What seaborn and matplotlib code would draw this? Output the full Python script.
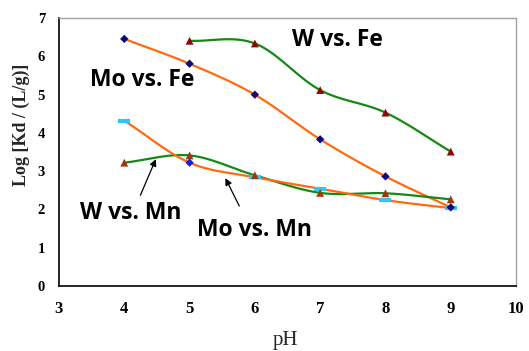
import numpy as np
import pandas as pd
import matplotlib
matplotlib.use("Agg")
import matplotlib.pyplot as plt
import seaborn as sns

ph = [4, 5, 6, 7, 8, 9]
ph_wfe = [5, 6, 7, 8, 9]
mo_fe = [6.46, 5.81, 5.00, 3.83, 2.86, 2.05]
w_fe = [6.41, 6.34, 5.12, 4.53, 3.51]
w_mn = [3.22, 3.41, 2.89, 2.43, 2.42, 2.26]
mo_mn = [4.32, 3.22, 2.84, 2.54, 2.24, 2.03]
xticks = [3, 4, 5, 6, 7, 8, 9, 10]
yticks = [0, 1, 2, 3, 4, 5, 6, 7]

sns.set_style("white")

def smooth(x, y, n=30):
    x = np.asarray(x, float); y = np.asarray(y, float)
    px = np.concatenate([[2 * x[0] - x[1]], x, [2 * x[-1] - x[-2]]])
    py = np.concatenate([[2 * y[0] - y[1]], y, [2 * y[-1] - y[-2]]])
    xs, ys = [], []
    for i in range(1, len(px) - 2):
        t = np.linspace(0, 1, n, endpoint=False)
        p0, p1, p2, p3 = (np.array([px[j], py[j]]) for j in range(i - 1, i + 3))
        c1 = p1 + (p2 - p0) / 6
        c2 = p2 - (p3 - p1) / 6
        pts = ((1 - t) ** 3)[:, None] * p1 + (3 * (1 - t) ** 2 * t)[:, None] * c1 \
            + (3 * (1 - t) * t ** 2)[:, None] * c2 + (t ** 3)[:, None] * p2
        xs.extend(pts[:, 0]); ys.extend(pts[:, 1])
    xs.append(x[-1]); ys.append(y[-1])
    return np.array(xs), np.array(ys)

fig = plt.figure(figsize=(5.29, 3.51), dpi=100)
ax = fig.add_axes([0.1115, 0.186, 0.864, 0.762])

orange = "#FF6A10"
green = "#138A13"

for xv, yv, c in [(ph, mo_fe, orange), (ph_wfe, w_fe, green), (ph, w_mn, green), (ph, mo_mn, orange)]:
    sx, sy = smooth(xv, yv)
    ax.plot(sx, sy, color=c, lw=1.6, zorder=2)

sns.scatterplot(x=ph, y=mo_fe, marker="D", color="#0A0A80", s=18, edgecolor="none", ax=ax, zorder=4)
sns.scatterplot(x=ph_wfe, y=w_fe, marker="^", color="#8B0A0A", s=32, edgecolor="none", ax=ax, zorder=4)
sns.scatterplot(x=ph, y=w_mn, marker="^", color="#A0380F", s=32, edgecolor="none", ax=ax, zorder=4)
mm = pd.DataFrame({"ph": ph, "v": mo_mn})
sub = mm[mm.ph != 5]
ax.plot(sub.ph, sub.v, linestyle="none", marker="_", color="#30C8F0", markersize=8, markeredgewidth=3, zorder=3)
sns.scatterplot(data=mm[mm.ph == 5], x="ph", y="v", marker="D", color="#1020F0", s=18, edgecolor="none", ax=ax, zorder=4)

ax.set_xlim(3, 10)
ax.set_ylim(0, 7)
ax.set_xticks(xticks)
ax.set_yticks(yticks)
ax.set_xticklabels([str(v) for v in xticks], fontfamily="Liberation Serif", fontweight="bold", fontsize=12)
ax.set_yticklabels([str(v) for v in yticks], fontfamily="Liberation Serif", fontweight="bold", fontsize=10.5)
ax.tick_params(direction="in", length=4, width=1, colors="black")
ax.tick_params(axis="x", pad=11)
ax.tick_params(axis="y", pad=10)
for s in ["left", "bottom"]:
    ax.spines[s].set_color("black"); ax.spines[s].set_linewidth(1.2)
for s in ["top", "right"]:
    ax.spines[s].set_color("#A0A0A0"); ax.spines[s].set_linewidth(1.0)

ax.set_xlabel("")
ax.set_ylabel("")
fig.text(285 / 529, 1 - 340 / 351, "pH", fontfamily="Liberation Serif", fontsize=15, ha="center", va="center")
fig.text(21 / 529, 1 - 125 / 351, "Log [Kd / (L/g)]", fontfamily="Liberation Serif", fontweight="bold",
         fontsize=13, rotation=90, ha="center", va="center")

lab = dict(fontfamily="Open Sans", fontweight="bold", fontsize=16.5, color="black")
ax.text(6.57, 6.43, "W vs. Fe", ha="left", va="center", **lab)
ax.text(3.47, 5.38, "Mo vs. Fe", ha="left", va="center", **lab)
ax.text(3.32, 1.9, "W vs. Mn", ha="left", va="center", **lab)
ax.text(5.12, 1.46, "Mo vs. Mn", ha="left", va="center", **lab)
arr = dict(arrowstyle="-|>", color="black", lw=0.9, mutation_scale=10)
ax.annotate("", xy=(4.5, 3.38), xytext=(4.23, 2.3), arrowprops=arr)
ax.annotate("", xy=(5.53, 2.88), xytext=(5.78, 2.02), arrowprops=arr)

fig.savefig("out.png", dpi=100)
